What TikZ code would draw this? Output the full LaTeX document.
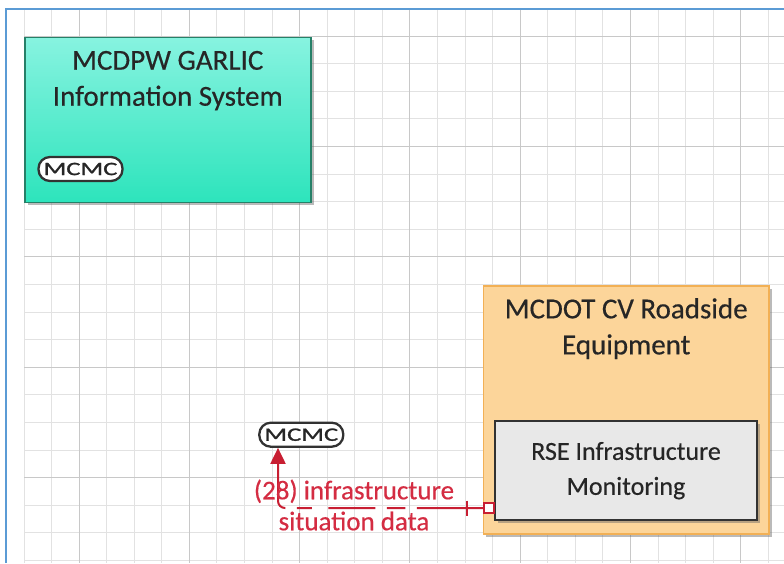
\documentclass[tikz,border=0pt]{standalone}
\usepackage{fontspec}
\setmainfont[FakeBold=0.4]{Carlito}
\newfontfamily\badgefont[FakeStretch=1.4,FakeBold=1.2]{Carlito}
\usetikzlibrary{arrows.meta,shadows,calc}
\definecolor{gridminor}{RGB}{226,226,226}
\definecolor{gridmajor}{RGB}{200,200,200}
\definecolor{frameblue}{RGB}{91,155,213}
\definecolor{greentop}{RGB}{135,243,224}
\definecolor{greenbot}{RGB}{45,228,188}
\definecolor{greenedge}{RGB}{38,128,104}
\definecolor{orangefill}{RGB}{252,213,154}
\definecolor{orangeedge}{RGB}{242,176,85}
\definecolor{greyfill}{RGB}{232,232,232}
\definecolor{darkedge}{RGB}{50,50,50}
\definecolor{textdark}{RGB}{38,38,38}
\definecolor{flowred}{RGB}{200,30,50}
\definecolor{labelred}{RGB}{212,44,66}
\tikzset{
  boxshadow/.style={drop shadow={shadow xshift=3pt,shadow yshift=-3pt,opacity=0.45,fill=black!60}},
  gbox/.style={rectangle,draw=greenedge,line width=1.5pt,top color=greentop,bottom color=greenbot,boxshadow,inner sep=0pt},
  obox/.style={rectangle,draw=orangeedge,line width=1.5pt,fill=orangefill,boxshadow,inner sep=0pt},
  fbox/.style={rectangle,draw=darkedge,line width=2pt,fill=greyfill,boxshadow,inner sep=0pt,
    align=center,text=textdark,font=\fontsize{26}{35}\selectfont},
  titletext/.style={inner sep=0pt,align=center,text=textdark,font=\fontsize{29}{36}\selectfont},
  badge/.style={rectangle,rounded corners=11.5pt,draw=darkedge,line width=2.3pt,fill=white,
    minimum width=84pt,minimum height=24pt,inner sep=0pt,text=textdark,font=\badgefont\fontsize{19}{20}\selectfont},
  port/.style={rectangle,draw=flowred,line width=1.5pt,fill=white,minimum size=10pt,inner sep=0pt},
  flow/.style={draw=flowred,line width=2pt,rounded corners=7pt,
    dash pattern=on 66.3pt off 11.7pt on 18.3pt off 11.7pt on 47pt off 16.3pt on 15pt off 11.7pt on 400pt off 1pt,
    -{Triangle[width=15pt,length=16pt,fill=flowred]}},
  flowtick/.style={draw=flowred,line width=2pt},
  flowlabel/.style={inner sep=0pt,align=center,text=labelred,font=\fontsize{27}{31}\selectfont}
}
\begin{document}
\begin{tikzpicture}[x=1pt,y=1pt]
\useasboundingbox (0,0) rectangle (784,-563);
\fill[white] (0,0) rectangle (784,-563);
% grid
\foreach \k in {0,...,27}{
  \pgfmathsetmacro\gx{24+27.57*\k}
  \draw[gridminor,line width=1pt] (\gx,-10) -- (\gx,-563);
}
\foreach \k in {0,...,19}{
  \pgfmathsetmacro\gy{36+27.6*\k}
  \draw[gridminor,line width=1pt] (24,-\gy) -- (784,-\gy);
}
\foreach \k in {2,6,...,26}{
  \pgfmathsetmacro\gx{24+27.57*\k}
  \draw[gridmajor,line width=1pt] (\gx,-10) -- (\gx,-563);
}
\foreach \k in {0,4,...,16}{
  \pgfmathsetmacro\gy{36+27.6*\k}
  \draw[gridmajor,line width=1pt] (24,-\gy) -- (784,-\gy);
}
% frame
\draw[frameblue,line width=2pt] (6,-563) -- (6,-8.5) -- (784,-8.5);

% green box
\node[gbox,minimum width=286pt,minimum height=165pt,anchor=north west] (garlic) at (24,-36.7) {};
\node[titletext,anchor=north] (garlicT) at ($(garlic.north)+(0,-14)$) {MCDPW GARLIC\\Information System};
\node[badge] (mcmc1) at (80.5,-169) {MCMC};

% orange box
\node[obox,minimum width=285.6pt,minimum height=248.3pt,anchor=north west] (rse) at (482.7,-285) {};
\node[titletext,anchor=north] (rseT) at ($(rse.north)+(0,-13)$) {MCDOT CV Roadside\\Equipment};
\node[fbox,minimum width=262pt,minimum height=99.3pt,anchor=north west] (mon) at (494,-420) {RSE Infrastructure\\Monitoring};

% external badge and flow
\node[badge] (mcmc2) at (301.3,-434.7) {MCMC};
\node[port] (sq) at (489,-508) {};
\coordinate (bend) at (278,-508);
\draw[flow] (sq.west) -- (bend) -- (bend |- mcmc2.south);
\draw[flowtick] ($(sq.west)+(-16,7.5)$) -- ++(0,-15);
\node[flowlabel] (lab) at (354,-505) {(28) infrastructure\\situation data};
\end{tikzpicture}
\end{document}
